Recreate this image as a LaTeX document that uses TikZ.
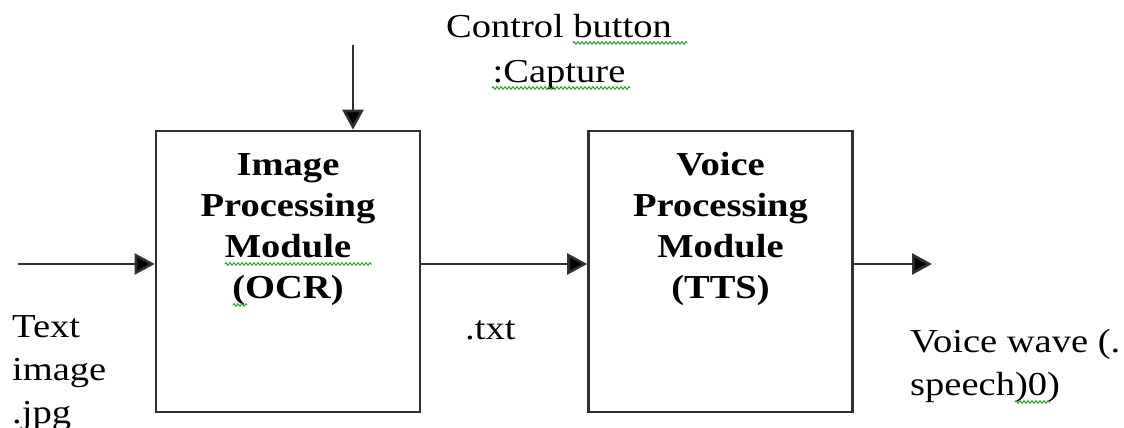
\documentclass[tikz,border=0pt]{standalone}
\usepackage{fontspec}
\setmainfont{Liberation Serif}[FakeStretch=1.15]
\usetikzlibrary{arrows.meta,decorations.pathmorphing}
\definecolor{linegray}{HTML}{303030}
\definecolor{spellgreen}{HTML}{2E9E2E}
\tikzset{
  modbox/.style={draw=linegray, line width=2.6pt, minimum width=264pt, minimum height=281pt, inner sep=0pt},
  modtext/.style={font=\bfseries\fontsize{33.5}{41}\selectfont, align=center, inner sep=0pt, anchor=base},
  plain/.style={font=\fontsize{33.5}{43}\selectfont, inner sep=0pt, anchor=base west, align=left},
  flow/.style={draw=linegray, line width=2.6pt, -{Triangle[length=20pt,width=21pt,fill=black]}},
  spell/.style={draw=spellgreen, line width=1pt, decorate, decoration={zigzag, amplitude=1.3pt, segment length=4pt}}
}
\begin{document}
\begin{tikzpicture}[x=1pt,y=-1pt]
\useasboundingbox (0,0) rectangle (1124,428);

% processing modules
\node[modbox] (ocr) at (288,271.5) {};
\node[modbox] (tts) at (720.5,271.5) {};
% multi-line nodes sit on the baseline of their last line
\node[modtext] (ocrtext) at (288,298) {Image\\Processing\\Module\\(OCR)};
\node[modtext] (ttstext) at (720.5,298) {Voice\\Processing\\Module\\(TTS)};

% free ends of the signal lines
\coordinate (src) at (18,264);
\coordinate (dst) at (932,264);
\coordinate (btn) at (353,45);

\draw[flow] (src) -- (src -| ocr.west);
\draw[flow] (ocr.east |- src) -- (tts.west |- src);
\draw[flow] (tts.east |- dst) -- (dst);
\draw[flow] (btn) -- (btn |- ocr.north);

% labels
\node[font=\fontsize{33.5}{44}\selectfont, inner sep=0pt, align=center, anchor=base] (ctrl) at (559,82) {Control button\\:Capture};
\node[plain] (input) at (12,423) {Text\\image\\.jpg};
\node[plain] (mid) at (465,339) {.txt};
\node[plain] (output) at (910,395) {Voice wave (.\\speech)0)};

% spelling marks
\draw[spell] (573,43) -- (687,43);
\draw[spell] (492,88) -- (630,88);
\draw[spell] (225,264) -- (372,264);
\draw[spell] (233,305) -- (247,305);
\draw[spell] (1015,402) -- (1050,402);
\end{tikzpicture}
\end{document}
